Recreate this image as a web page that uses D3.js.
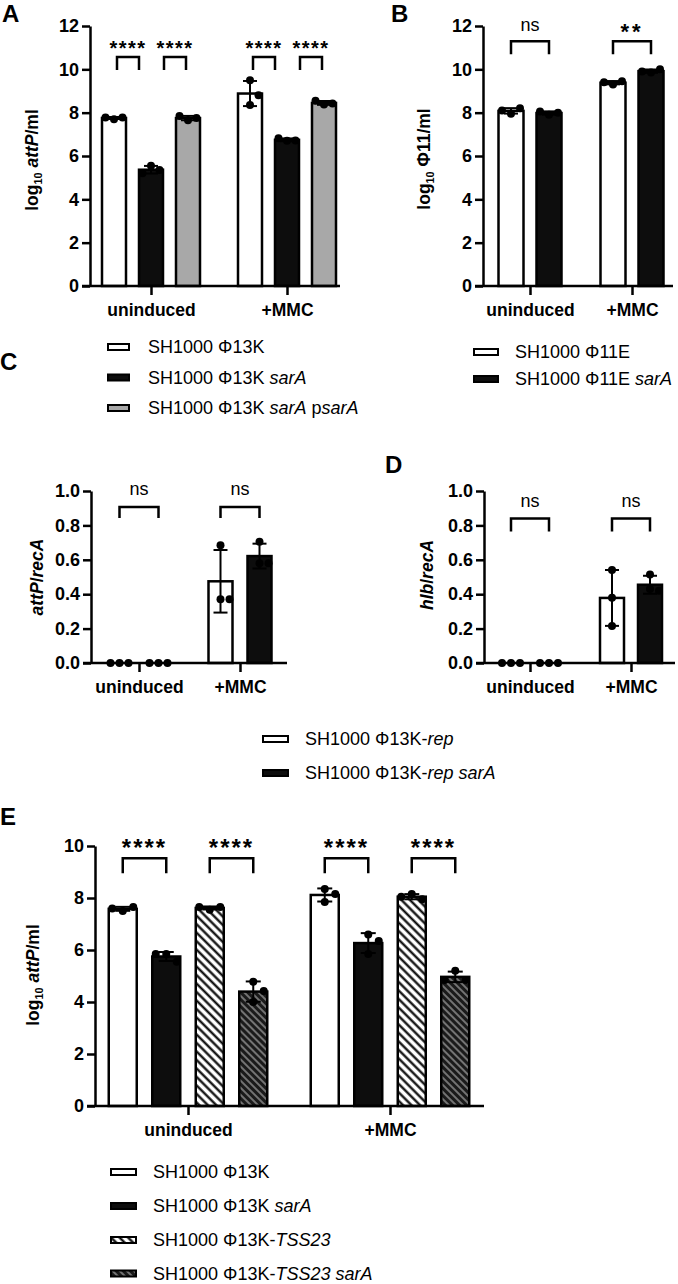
<!DOCTYPE html>
<html>
<head>
<meta charset="utf-8">
<script src="https://cdn.jsdelivr.net/npm/d3@7"></script>
<style>
body { margin: 0; background: #fff; }
svg text { font-family: "Liberation Sans", Arial, Helvetica, sans-serif; fill: #000; }
</style>
</head>
<body>
<svg id="fig" width="678" height="1284"></svg>
<script>
// ---- data ----
var groups = ["uninduced", "+MMC"];

// A
var aSeries = ["SH1000 Φ13K", "SH1000 Φ13K *sarA*", "SH1000 Φ13K *sarA* p*sarA*"];
var aPoints = [
  [[7.70, 7.78, 7.78], [9.50, 8.35, 8.80]],
  [[5.55, 5.35, 5.20], [6.70, 6.72, 6.82]],
  [[7.65, 7.75, 7.85], [8.38, 8.42, 8.55]]
];
var aSig = [[0, 0, 1, "****"], [0, 1, 2, "****"], [1, 0, 1, "****"], [1, 1, 2, "****"]];

// B
var bSeries = ["SH1000 Φ11E", "SH1000 Φ11E *sarA*"];
var bPoints = [
  [[7.95, 8.20, 8.10], [9.30, 9.45, 9.40]],
  [[7.90, 8.00, 8.05], [9.85, 10.00, 9.90]]
];
var bSig = [[0, 0, 1, "ns"], [1, 0, 1, "**"]];

// C, D
var cdSeries = ["SH1000 Φ13K-*rep*", "SH1000 Φ13K-*rep* *sarA*"];
var cPoints = [
  [[0, 0, 0], [0.685, 0.37, 0.37]],
  [[0, 0, 0], [0.705, 0.58, 0.58]]
];
var cSig = [[0, 0, 1, "ns"], [1, 0, 1, "ns"]];
var dPoints = [
  [[0, 0, 0], [0.54, 0.38, 0.215]],
  [[0, 0, 0], [0.515, 0.43, 0.42]]
];
var dSig = [[0, 0, 1, "ns"], [1, 0, 1, "ns"]];

// E
var eSeries = ["SH1000 Φ13K", "SH1000 Φ13K *sarA*", "SH1000 Φ13K-*TSS23*", "SH1000 Φ13K-*TSS23* *sarA*"];
var ePoints = [
  [[7.50, 7.65, 7.60], [8.35, 7.85, 8.15]],
  [[5.85, 5.55, 5.85], [6.60, 5.85, 6.35]],
  [[7.55, 7.65, 7.65], [8.15, 7.95, 8.05]],
  [[4.78, 4.42, 4.00], [5.20, 4.85, 4.85]]
];
var eSig = [[0, 0, 1, "****"], [0, 2, 3, "****"], [1, 0, 1, "****"], [1, 2, 3, "****"]];

var ticks12 = [0, 2, 4, 6, 8, 10, 12];
var ticks10 = [0, 2, 4, 6, 8, 10];
var ticks1 = [0, 0.2, 0.4, 0.6, 0.8, 1.0];

// ---- drawing ----
var svg = d3.select("#fig");
var defs = svg.append("defs");

var hatch = defs.append("pattern").attr("id", "hatch").attr("patternUnits", "userSpaceOnUse")
  .attr("width", 6).attr("height", 6).attr("patternTransform", "rotate(-45)");
hatch.append("rect").attr("width", 6).attr("height", 6).attr("fill", "#fff");
hatch.append("line").attr("x1", 1.5).attr("x2", 1.5).attr("y1", 0).attr("y2", 6)
  .attr("stroke", "#000").attr("stroke-width", 2.2);

var hatchDark = defs.append("pattern").attr("id", "hatchDark").attr("patternUnits", "userSpaceOnUse")
  .attr("width", 5).attr("height", 5).attr("patternTransform", "rotate(-45)");
hatchDark.append("rect").attr("width", 5).attr("height", 5).attr("fill", "#1a1a1a");
hatchDark.append("line").attr("x1", 1).attr("x2", 1).attr("y1", 0).attr("y2", 5)
  .attr("stroke", "#9a9a9a").attr("stroke-width", 1.4);

// text with *italic* and _{sub} markup
function rich(text, str) {
  var fs = parseFloat(text.attr("font-size"));
  var parts = str.split(/(\*[^*]+\*|_\{[^}]+\})/).filter(function(s) { return s; });
  var back = 0;
  parts.forEach(function(s) {
    var t = text.append("tspan");
    if (back) { t.attr("dy", -back); back = 0; }
    if (s[0] === "*") {
      t.text(s.slice(1, -1)).attr("font-style", "italic");
    } else if (s[0] === "_") {
      back = 0.25 * fs;
      t.text(s.slice(2, -1)).attr("font-size", 0.62 * fs).attr("dy", back);
    } else {
      t.text(s);
    }
  });
  return text;
}

function drawPanel(p) {
  var g = svg.append("g");
  var y = d3.scaleLinear().domain([0, p.max]).range([p.y0, p.y1]);
  var x = d3.scalePoint().domain(groups).range([p.c0, p.c1]);
  var n = p.points.length;
  var off = function(i) { return (i - (n - 1) / 2) * p.step; };

  // bars, error bars, points
  p.points.forEach(function(series, si) {
    series.forEach(function(vals, gi) {
      var cx = x(groups[gi]) + off(si);
      var m = d3.mean(vals), sd = d3.deviation(vals);
      g.append("rect")
        .attr("x", cx - p.bw / 2).attr("width", p.bw)
        .attr("y", y(m)).attr("height", y(0) - y(m))
        .attr("fill", p.fills[si]).attr("stroke", "#000").attr("stroke-width", 2.5);
      var cw = p.cap / 2;
      var eb = g.append("g").attr("stroke", "#000").attr("stroke-width", 2).attr("fill", "none");
      eb.append("line").attr("x1", cx).attr("x2", cx).attr("y1", y(m + sd)).attr("y2", y(Math.max(0, m - sd)));
      eb.append("line").attr("x1", cx - cw).attr("x2", cx + cw).attr("y1", y(m + sd)).attr("y2", y(m + sd));
      if (m - sd > 0) eb.append("line").attr("x1", cx - cw).attr("x2", cx + cw).attr("y1", y(m - sd)).attr("y2", y(m - sd));
      // simple swarm so overlapping points spread sideways
      var placed = [];
      vals.forEach(function(v) {
        var py = y(v), px = cx;
        var ks = [0, 1, -1, 2, -2];
        for (var k = 0; k < ks.length; k++) {
          var tx = cx + ks[k] * p.jit;
          var hit = placed.some(function(q) { return Math.abs(q[1] - py) < 10 && Math.abs(q[0] - tx) < p.jit * 0.9; });
          if (!hit) { px = tx; break; }
        }
        placed.push([px, py]);
      });
      g.selectAll(null).data(placed).enter().append("circle")
        .attr("cx", function(d) { return d[0]; }).attr("cy", function(d) { return d[1]; })
        .attr("r", 4).attr("fill", "#000");
    });
  });

  // y axis
  var ya = g.append("g").attr("transform", "translate(" + p.x0 + ",0)")
    .call(d3.axisLeft(y).tickValues(p.ticks).tickSize(8).tickSizeOuter(0).tickPadding(3).tickFormat(p.fmt));
  ya.select(".domain").attr("stroke-width", 2.5);
  ya.selectAll(".tick line").attr("stroke-width", 2.5);
  ya.selectAll(".tick text").attr("font-size", 18).attr("font-weight", "bold")
    .attr("font-family", "Liberation Sans, Arial, sans-serif");

  // x axis
  g.append("line").attr("x1", p.x0 - 8).attr("x2", p.x1).attr("y1", y(0)).attr("y2", y(0))
    .attr("stroke", "#000").attr("stroke-width", 2.5);
  var xa = g.append("g").attr("transform", "translate(0," + y(0) + ")")
    .call(d3.axisBottom(x).tickSize(9).tickSizeOuter(0));
  xa.select(".domain").remove();
  xa.selectAll(".tick line").attr("stroke-width", 2.5);
  xa.selectAll(".tick text").attr("y", p.catY - y(0)).attr("dy", 0)
    .attr("font-size", 17.5).attr("font-weight", "bold")
    .attr("font-family", "Liberation Sans, Arial, sans-serif");

  // y title
  var yt = g.append("text").attr("transform", "translate(" + p.tx + "," + p.ty + ") rotate(-90)")
    .attr("text-anchor", "middle").attr("font-size", 17.5).attr("font-weight", "bold");
  rich(yt, p.title);

  // significance brackets
  p.sig.forEach(function(s, i) {
    var c = x(groups[s[0]]);
    var ins = p.inset ? p.inset[i % 2] : [0, 0];
    var xa1 = c + off(s[1]) + ins[0], xb = c + off(s[2]) - ins[1];
    var top = y(p.brY), leg = top + p.legLen;
    g.append("path").attr("d", "M" + xa1 + "," + leg + "V" + top + "H" + xb + "V" + leg)
      .attr("fill", "none").attr("stroke", "#000").attr("stroke-width", 2.5);
    var star = s[3] !== "ns";
    var fs = star ? p.starFs : 18;
    g.append("text").attr("x", (xa1 + xb) / 2).attr("text-anchor", "middle")
      .attr("y", top - p.labGap + (star ? 0.58 : 0.27) * fs)
      .attr("font-size", fs).attr("font-weight", star ? "bold" : "normal")
      .attr("letter-spacing", star ? p.starLs : 0)
      .text(s[3]);
  });
}

function drawLegend(lg) {
  var g = svg.append("g");
  lg.labels.forEach(function(lab, i) {
    var cy = lg.rows[i];
    g.append("rect").attr("x", lg.x + 1).attr("y", cy - 3).attr("width", lg.w - 2).attr("height", 6)
      .attr("fill", lg.fills[i]).attr("stroke", "#000").attr("stroke-width", 2);
    var t = g.append("text").attr("x", lg.tx).attr("y", cy + 6.3).attr("font-size", 18);
    rich(t, lab);
  });
}

function letter(l, xx, yy) {
  svg.append("text").attr("x", xx).attr("y", yy).attr("font-size", 24).attr("font-weight", "bold").text(l);
}

var fillWhite = "#fff", fillBlack = "#0d0d0d", fillGrey = "#a8a8a8";

drawPanel({ points: aPoints, sig: aSig, max: 12, ticks: ticks12, fmt: d3.format("d"),
  x0: 90, x1: 340, y0: 286, y1: 26, c0: 151, c1: 287, step: 37, bw: 24, cap: 14, jit: 8.5,
  fills: [fillWhite, fillBlack, fillGrey], catY: 316, tx: 38, ty: 160,
  title: "log_{10} *attP*/ml", brY: 10.57, legLen: 13, labGap: 14, starFs: 20, starLs: 1.5,
  inset: [[3, 12], [13, 2]] });

drawPanel({ points: bPoints, sig: bSig, max: 12, ticks: ticks12, fmt: d3.format("d"),
  x0: 483, x1: 673, y0: 286, y1: 26, c0: 530, c1: 632, step: 38, bw: 25, cap: 14, jit: 9,
  fills: [fillWhite, fillBlack], catY: 316, tx: 430, ty: 159,
  title: "log_{10} Φ11/ml", brY: 11.3, legLen: 13, labGap: 15, starFs: 22, starLs: 3 });

drawPanel({ points: cPoints, sig: cSig, max: 1, ticks: ticks1, fmt: d3.format(".1f"),
  x0: 91, x1: 287, y0: 663, y1: 491, c0: 139, c1: 240, step: 39, bw: 24, cap: 14, jit: 9,
  fills: [fillWhite, fillBlack], catY: 693, tx: 43, ty: 577,
  title: "*attP*/*recA*", brY: 0.907, legLen: 11, labGap: 17, starFs: 20, starLs: 1 });

drawPanel({ points: dPoints, sig: dSig, max: 1, ticks: ticks1, fmt: d3.format(".1f"),
  x0: 484, x1: 675, y0: 663, y1: 491, c0: 530, c1: 631, step: 38, bw: 24, cap: 14, jit: 9,
  fills: [fillWhite, fillBlack], catY: 693, tx: 433, ty: 575,
  title: "*hlb*/*recA*", brY: 0.84, legLen: 13, labGap: 16, starFs: 20, starLs: 1 });

drawPanel({ points: ePoints, sig: eSig, max: 10, ticks: ticks10, fmt: d3.format("d"),
  x0: 95, x1: 484, y0: 1106, y1: 846, c0: 188, c1: 390, step: 43.5, bw: 28, cap: 15, jit: 10.5,
  fills: [fillWhite, fillBlack, "url(#hatch)", "url(#hatchDark)"], catY: 1136, tx: 39, ty: 975,
  title: "log_{10} *attP*/ml", brY: 9.53, legLen: 15, labGap: 16, starFs: 24, starLs: 2 });

drawLegend({ labels: aSeries, fills: [fillWhite, fillBlack, fillGrey], x: 107, w: 23, tx: 148, rows: [347, 377.5, 408] });
drawLegend({ labels: bSeries, fills: [fillWhite, fillBlack], x: 473, w: 26, tx: 515, rows: [352, 379] });
drawLegend({ labels: cdSeries, fills: [fillWhite, fillBlack], x: 262, w: 27, tx: 305, rows: [739, 773] });
drawLegend({ labels: eSeries, fills: [fillWhite, fillBlack, "url(#hatch)", "url(#hatchDark)"], x: 110, w: 27, tx: 153, rows: [1172, 1206, 1240, 1273.5] });

letter("A", 2, 22);
letter("B", 391, 22);
letter("C", 0, 370);
letter("D", 385, 473);
letter("E", 0, 825);
</script>
</body>
</html>
